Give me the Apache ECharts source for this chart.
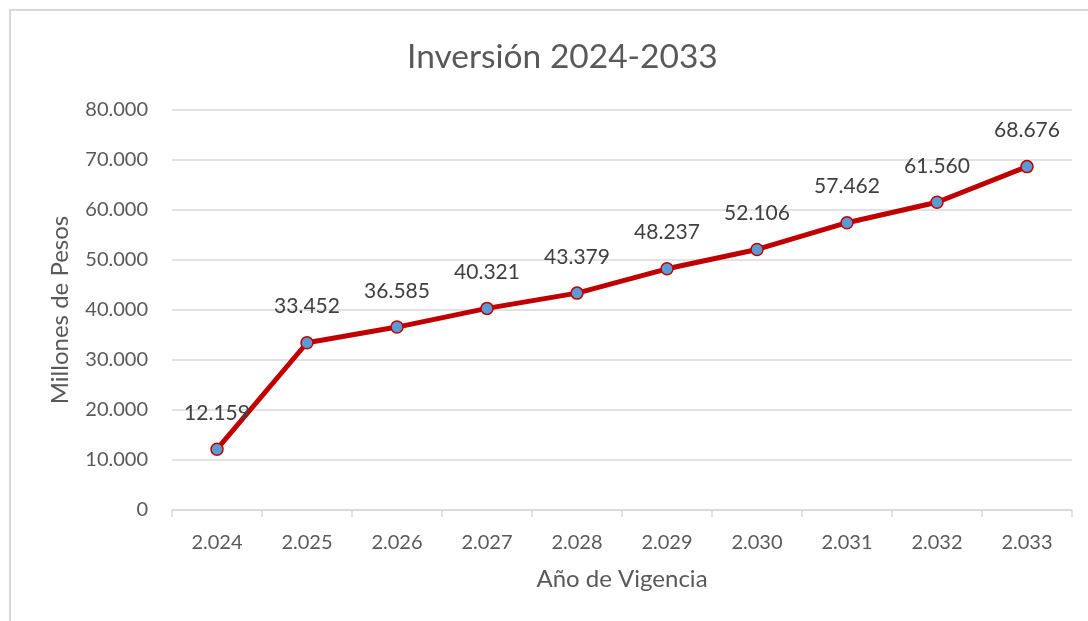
<!DOCTYPE html>
<html><head><meta charset="utf-8">
<script src="https://cdn.jsdelivr.net/npm/echarts@6/dist/echarts.min.js"></script>
<style>html,body{margin:0;padding:0;background:#fff}#c{width:1088px;height:621px;position:relative}
#frame{position:absolute;left:9px;top:9px;width:1100px;height:700px;border:2px solid #d9d9d9;box-sizing:border-box;pointer-events:none}</style>
</head><body><div id="c"></div><div id="frame"></div>
<script>
const titleText = 'Inversión 2024-2033';
const categories = ['2.024','2.025','2.026','2.027','2.028','2.029','2.030','2.031','2.032','2.033'];
const values = [12159, 33452, 36585, 40321, 43379, 48237, 52106, 57462, 61560, 68676];
const yName = 'Millones de Pesos';
const xName = 'Año de Vigencia';
const fmt = v => v === 0 ? '0' : String(v).replace(/\B(?=(\d{3})+(?!\d))/g, '.');
const FONT = 'Lato, "Open Sans", sans-serif';
const chart = echarts.init(document.getElementById('c'), null, {renderer:'canvas'});
chart.setOption({
  animation:false,
  textStyle:{fontFamily:FONT},
  title:{text:titleText,left:402,top:35,textStyle:{fontSize:33.5,fontWeight:'normal',color:'#595959',fontFamily:FONT}},
  grid:{left:172,right:16,top:110,bottom:111,containLabel:false},
  xAxis:{type:'category',data:categories,boundaryGap:true,
    name:xName,nameLocation:'middle',nameGap:57,nameTextStyle:{fontSize:24,color:'#595959',fontFamily:FONT},
    axisLine:{lineStyle:{color:'#d9d9d9',width:1.5}},
    axisTick:{show:true,length:7,lineStyle:{color:'#d9d9d9',width:1.5}},
    axisLabel:{fontSize:20,color:'#595959',margin:23,fontFamily:FONT}},
  yAxis:{type:'value',min:0,max:80000,interval:10000,
    name:yName,nameLocation:'middle',nameGap:100,nameRotate:90,nameTextStyle:{fontSize:24,color:'#595959',fontFamily:FONT},
    axisLine:{show:false},axisTick:{show:false},
    splitLine:{lineStyle:{color:'#d9d9d9',width:1.5}},
    axisLabel:{fontSize:20,color:'#595959',margin:24,formatter:fmt,fontFamily:FONT}},
  series:[{type:'line',data:values,symbol:'circle',symbolSize:12,
    lineStyle:{color:'#c00000',width:5},
    itemStyle:{color:'#5b9bd5',borderColor:'#c00000',borderWidth:1.5},
    label:{show:true,position:'top',distance:19,fontSize:21,color:'#404040',formatter:p=>fmt(p.value),fontFamily:FONT},
    z:3}]
});
</script></body></html>
